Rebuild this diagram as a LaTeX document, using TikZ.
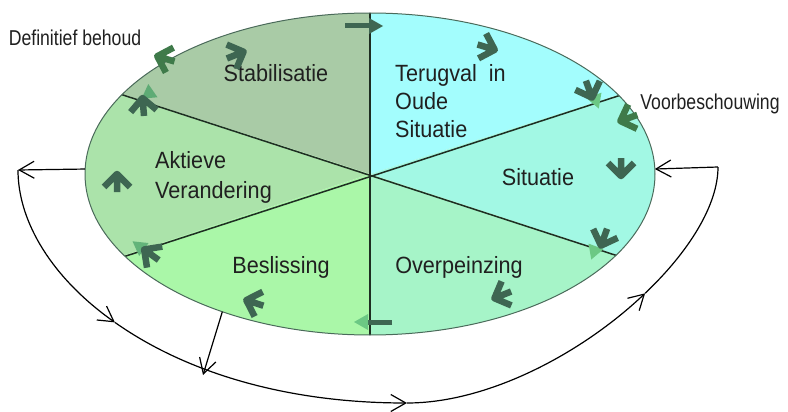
\documentclass[tikz,border=0pt]{standalone}
\usepackage{fontspec}
\setmainfont{Liberation Sans}
\newfontfamily\labfont{Liberation Sans}[FakeStretch=0.92]
\newfontfamily\sidefont{Liberation Sans}[FakeStretch=0.82]
\usetikzlibrary{arrows.meta,shapes.geometric}
\definecolor{stabc}{HTML}{A9CBA6}
\definecolor{terugc}{HTML}{A3FDFD}
\definecolor{situc}{HTML}{A2F8E4}
\definecolor{overc}{HTML}{A6F4C8}
\definecolor{beslc}{HTML}{AAF7A8}
\definecolor{aktc}{HTML}{ABE3AA}
\definecolor{divc}{HTML}{1E2E22}
\definecolor{rimc}{HTML}{4A6A5A}
\definecolor{arrdark}{HTML}{3E6652}
\definecolor{arrgreen}{HTML}{3F7A4A}
\definecolor{ghost}{HTML}{6CC884}
\definecolor{txt}{HTML}{202020}
\tikzset{
  barb/.tip={Straight Barb[length=15pt,width=17pt,line width=1.2pt]},
  conn/.style={line width=1.2pt, black},
  divline/.style={line width=1.5pt, divc},
  lab/.style={font=\labfont\fontsize{23.5}{28.5}\selectfont, inner sep=0, text=txt},
  side/.style={font=\sidefont\fontsize{21.5}{24}\selectfont, inner sep=0, text=txt},
  pics/chev/.style={code={\draw[line width=6.5pt, line join=round, #1] (-12,0)--(6,0) (-7,-13)--(6,0)--(-7,13);}},
  pics/ltri/.style={code={\fill[#1] (-6,-8)--(8,0)--(-6,8)--cycle;}},
  pics/tarr/.style={code={\draw[line width=5pt, arrdark] (-24,0)--(0,0); \fill[#1] (0,-8)--(14,0)--(0,8)--cycle;}}
}
\begin{document}
\begin{tikzpicture}[x=1pt,y=-1pt]
\useasboundingbox[fill=white] (0,0) rectangle (788,412);
\coordinate (C) at (370,174);
\begin{scope}
  \clip (C) ellipse [x radius=285, y radius=161];
  \fill[stabc]  (C) -- (-120,16) -- (-120,-300) -- (370,-300) -- cycle;
  \fill[terugc] (C) -- (370,-300) -- (864,-300) -- (864,16) -- cycle;
  \fill[situc]  (C) -- (864,16) -- (864,336) -- cycle;
  \fill[overc]  (C) -- (864,336) -- (864,700) -- (370,700) -- cycle;
  \fill[beslc]  (C) -- (370,700) -- (-120,700) -- (-120,336) -- cycle;
  \fill[aktc]   (C) -- (-120,336) -- (-120,16) -- cycle;
  \draw[divline] (-120,16) -- (864,336);
  \draw[divline] (864,16) -- (-120,336);
  \draw[divline] (370,-300) -- (370,700);
\end{scope}
\node[ellipse, draw=rimc, line width=1pt, minimum width=570, minimum height=322, inner sep=0, outer sep=0] (E) at (C) {};

% labels
\node[lab, anchor=base] (stab) at (276,82) {Stabilisatie};
\node[lab, anchor=base west, align=left] (terug) at (395,138) {Terugval~ in\\Oude\\Situatie};
\node[lab, anchor=base] (sit) at (538,185) {Situatie};
\node[lab, anchor=base] (over) at (459,273) {Overpeinzing};
\node[lab, anchor=base] (besl) at (281,273) {Beslissing};
\node[lab, anchor=base west, align=left, font=\labfont\fontsize{23.5}{30}\selectfont] (akt) at (155,198) {Aktieve\\Verandering};
\node[side, anchor=base] (def) at (75,46) {Definitief behoud};
\node[side, anchor=base] (voor) at (710,110) {Voorbeschouwing};

% small arrows
\pic[rotate=0] at (369,26) {tarr=arrdark};
\pic[rotate=22] at (238,54) {chev=arrdark};
\pic[rotate=163] at (163,58) {chev=arrgreen};
\pic[rotate=95] at (149,92) {ltri=ghost!70!arrdark};
\pic[rotate=95] at (143,104) {chev=arrdark};
\pic[rotate=90] at (117,180) {chev=arrdark};
\pic[rotate=144] at (139,246) {ltri=ghost!80!arrdark};
\pic[rotate=144] at (149,253) {chev=arrdark};
\pic[rotate=162] at (252,302) {chev=arrdark};
\pic[rotate=180] at (368,322) {tarr=ghost};
\pic[rotate=202] at (500,296) {chev=arrdark};
\pic[rotate=250] at (594,252) {ltri=ghost};
\pic[rotate=250] at (603,240) {chev=arrdark};
\pic[rotate=270] at (621,170) {chev=arrdark};
\pic[rotate=200] at (626,119) {chev=arrgreen};
\pic[rotate=290] at (596,101) {ltri=ghost};
\pic[rotate=290] at (590,92) {chev=arrdark};
\pic[rotate=343] at (489,48) {chev=arrdark};

% connectors
\coordinate (L) at (18,170);
\coordinate (R) at (718,167);
\coordinate (A1) at (114.9,322.4);
\coordinate (A2) at (407,403);
\coordinate (A3) at (645.1,293.3);
\coordinate (M) at (203,375);
\draw[conn, -barb] (E.179) -- (L);
\draw[conn, -barb] (R) -- (E.1.4);
\draw[conn, -barb] (E.223.8) -- (M);
\draw[conn, -barb] (L) .. controls (18,222.8) and (53,278.6) .. (A1);
\draw[conn, -barb] (A1) .. controls (181.9,369.7) and (280.4,403) .. (A2);
\draw[conn, -barb] (A2) .. controls (488.4,403) and (582,353.2) .. (A3);
\draw[conn] (A3) .. controls (688.9,251.7) and (718,205.1) .. (R);
\end{tikzpicture}
\end{document}
